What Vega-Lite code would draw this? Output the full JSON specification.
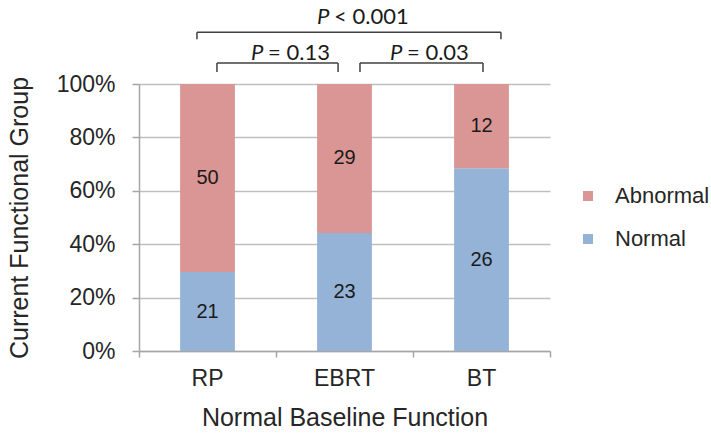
{
  "$schema": "https://vega.github.io/schema/vega-lite/v6.json",
  "width": 411,
  "height": 267,
  "autosize": {"type": "none"},
  "padding": {"left": 139, "top": 84, "right": 161, "bottom": 86},
  "background": "white",
  "config": {"view": {"stroke": null}, "font": "Liberation Sans"},
  "resolve": {"scale": {"x": "independent"}},
  "layer": [
    {
      "data": {"values": [
        {"group": "RP", "status": "Normal", "count": 21},
        {"group": "RP", "status": "Abnormal", "count": 50},
        {"group": "EBRT", "status": "Normal", "count": 23},
        {"group": "EBRT", "status": "Abnormal", "count": 29},
        {"group": "BT", "status": "Normal", "count": 26},
        {"group": "BT", "status": "Abnormal", "count": 12}
      ]},
      "layer": [
        {
          "mark": {"type": "bar"},
          "encoding": {
            "x": {"field": "group", "type": "nominal", "sort": ["RP", "EBRT", "BT"],
              "scale": {"paddingInner": 0.6, "paddingOuter": 0.3},
              "axis": {"title": "Normal Baseline Function", "labelAngle": 0, "ticks": false, "tickSize": 0,
                "domainColor": "#A6A6A6", "domainWidth": 1.5, "grid": false,
                "labelFontSize": 23, "labelColor": "#262626", "labelPadding": 16,
                "titleFontSize": 25, "titleFontWeight": "normal", "titleColor": "#262626", "titlePadding": 15}},
            "y": {"field": "count", "type": "quantitative", "stack": "normalize",
              "scale": {"domain": [0, 1]},
              "axis": {"title": "Current Functional Group", "values": [0, 0.2, 0.4, 0.6, 0.8, 1], "format": ".0%",
                "grid": true, "gridColor": "#BFBFBF", "gridWidth": 1.5,
                "domainColor": "#A6A6A6", "domainWidth": 1.5,
                "tickColor": "#A6A6A6", "tickSize": 7, "tickWidth": 1.5,
                "labelFontSize": 23, "labelColor": "#262626", "labelPadding": 17,
                "titleFontSize": 25, "titleFontWeight": "normal", "titleColor": "#262626", "titlePadding": 24}},
            "color": {"field": "status", "type": "nominal",
              "scale": {"domain": ["Abnormal", "Normal"], "range": ["#D99694", "#95B3D7"]},
              "legend": {"orient": "none", "legendX": 438, "legendY": 101, "title": null,
                "symbolType": "square", "symbolSize": 100, "symbolStrokeWidth": 0,
                "labelFontSize": 22, "labelColor": "#262626", "labelOffset": 16, "rowPadding": 21}},
            "order": {"field": "status", "sort": "descending"}
          }
        },
        {
          "mark": {"type": "text", "fontSize": 20, "color": "#1a1a1a"},
          "encoding": {
            "x": {"field": "group", "type": "nominal", "sort": ["RP", "EBRT", "BT"]},
            "y": {"field": "count", "type": "quantitative", "stack": "normalize", "bandPosition": 0.5},
            "detail": {"field": "status"},
            "order": {"field": "status", "sort": "descending"},
            "text": {"field": "count", "type": "quantitative"}
          }
        }
      ]
    },
    {
      "layer": [
        {
          "data": {"values": [
            {"x1": 0.423, "x2": 2.642, "ytop": 1.194, "yend": 1.168},
            {"x1": 0.569, "x2": 1.453, "ytop": 1.079, "yend": 1.045},
            {"x1": 1.613, "x2": 2.511, "ytop": 1.079, "yend": 1.045}
          ]},
          "layer": [
            {
              "mark": {"type": "rule", "color": "#404040", "strokeWidth": 1.5},
              "encoding": {
                "x": {"field": "x1", "type": "quantitative", "scale": {"domain": [0, 3], "nice": false},
                  "axis": {"orient": "bottom", "values": [0, 1, 2, 3], "labels": false, "domain": false, "grid": false,
                    "ticks": true, "tickSize": 6, "tickColor": "#A6A6A6", "tickWidth": 1.5, "title": null}},
                "x2": {"field": "x2"},
                "y": {"field": "ytop", "type": "quantitative", "scale": {"domain": [0, 1]}}
              }
            },
            {
              "mark": {"type": "rule", "color": "#404040", "strokeWidth": 1.5},
              "encoding": {
                "x": {"field": "x1", "type": "quantitative"},
                "y": {"field": "yend", "type": "quantitative"},
                "y2": {"field": "ytop"}
              }
            },
            {
              "mark": {"type": "rule", "color": "#404040", "strokeWidth": 1.5},
              "encoding": {
                "x": {"field": "x2", "type": "quantitative"},
                "y": {"field": "yend", "type": "quantitative"},
                "y2": {"field": "ytop"}
              }
            }
          ]
        },
        {
          "data": {"values": [
            {"tx": 1.30, "ty": 1.224, "rest": "< 0.001"},
            {"tx": 0.818, "ty": 1.09, "rest": "= 0.13"},
            {"tx": 1.832, "ty": 1.09, "rest": "= 0.03"}
          ]},
          "layer": [
            {
              "mark": {"type": "text", "text": "P", "font": "Lato", "fontStyle": "italic", "fontSize": 22,
                "align": "left", "baseline": "alphabetic", "color": "#1a1a1a"},
              "encoding": {
                "x": {"field": "tx", "type": "quantitative"},
                "y": {"field": "ty", "type": "quantitative"}
              }
            },
            {
              "mark": {"type": "text", "font": "Lato", "fontSize": 22, "dx": 17,
                "align": "left", "baseline": "alphabetic", "color": "#1a1a1a"},
              "encoding": {
                "x": {"field": "tx", "type": "quantitative"},
                "y": {"field": "ty", "type": "quantitative"},
                "text": {"field": "rest", "type": "nominal"}
              }
            }
          ]
        }
      ]
    }
  ]
}
